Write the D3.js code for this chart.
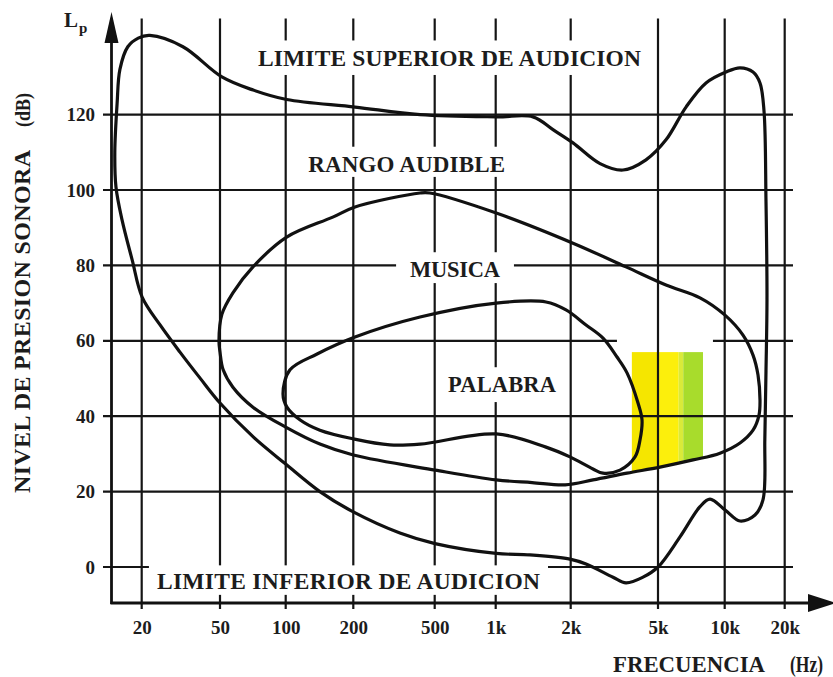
<!DOCTYPE html>
<html>
<head>
<meta charset="utf-8">
<script src="https://cdn.jsdelivr.net/npm/d3@7"></script>
<style>
  body { margin: 0; background: #fff; }
  svg { display: block; }
  text { font-family: "Liberation Serif", "Times New Roman", serif; font-weight: bold; fill: #1c1c1c; }
</style>
</head>
<body>
<svg></svg>
<script>
let width = 833
let height = 677

// frequency ticks (the drawing's log axis is hand-spaced, so the scale is piecewise)
let freqTicks = [20, 50, 100, 200, 500, 1000, 2000, 5000, 10000, 20000]
let freqLabels = ["20", "50", "100", "200", "500", "1k", "2k", "5k", "10k", "20k"]
let freqTickPos = [141.7, 220, 285.7, 353.3, 434.7, 495.7, 570.7, 658, 724.7, 784.7]
let dbTicks = [0, 20, 40, 60, 80, 100, 120]

// [Hz, dB] closed contours
let audible = [
  [14.6, 110], [15, 123], [15.5, 132], [17, 138], [19.2, 140.3], [22, 141], [32.4, 138], [51, 130],
  [71, 126.5], [101, 124], [204, 122], [424, 120], [1005, 119.4], [1411, 119.4], [1698, 116],
  [2049, 112.5], [2721, 107], [3464, 105.3], [4408, 108], [5433, 113.3], [6690, 122], [8235, 128.4],
  [10151, 131.3], [11934, 132.4], [13871, 131.3], [15034, 128.4], [15746, 121], [16113, 97],
  [16300, 71], [16113, 52], [15900, 34], [15560, 17.8], [14190, 13.8], [11934, 12.2], [10050, 15.1],
  [8585, 18], [7737, 16], [6285, 8], [5000, 0], [4272, -2.7], [3573, -4.2], [3118, -2.7],
  [2349, 0.8], [1987, 2.1], [1373, 3.2], [1005, 3.6], [502, 6.2], [338, 9], [200, 14.6], [142, 20],
  [100, 27.3], [71, 34.5], [50, 43.5], [39.6, 50.1], [31.3, 57], [24.8, 64.2], [20.1, 71.6],
  [17.9, 81.4], [15.9, 92], [14.8, 100.8]
]

let music = [
  [49.4, 60], [51, 67], [57.3, 72.7], [70.8, 79.6], [101, 87.5], [162, 92.8], [204, 95.5],
  [424, 99.2], [474, 99.2], [1005, 93.9], [2049, 85.9], [3573, 79.6], [5433, 74.8], [7737, 71.4],
  [10035, 66.8], [12355, 61.5], [13871, 56.2], [14694, 50.9], [15034, 44.3], [14865, 40.3],
  [13871, 36.3], [11934, 32.9], [9523, 30.2], [7193, 28.4], [5104, 26.5], [3612, 24.9],
  [2527, 23.1], [1900, 21.8], [1400, 22.4], [1005, 23.1], [502, 25.7], [200, 29.7], [142, 32.6],
  [100, 37.1], [70.8, 42.4], [57.3, 47.7], [51.7, 52.3], [50, 57]
]

let speech = [
  [97.2, 45.9], [104.5, 52.3], [138, 56.5], [204, 61], [424, 66.3], [1005, 70], [1592, 70.3],
  [1915, 68.2], [2349, 64.2], [2808, 60.7], [3252, 55.7], [3612, 51.5], [4054, 43.5], [4228, 39],
  [4139, 33.7], [3929, 29.2], [3355, 25.7], [2808, 24.9], [2527, 26], [1987, 29.2], [1592, 31.8],
  [1005, 35.3], [424, 32.6], [302, 32.4], [200, 34], [142, 36.3], [116, 39], [101.3, 42.4]
]

// highlighted bands [from Hz, to Hz], top in dB, clipped by the music contour
let bandFrom = [3800, 5000, 6200, 6500]
let bandTo = [5000, 6200, 6500, 7980]
let bandColors = ["#f5e600", "#fcef0c", "#d9ea3a", "#a8dc2c"]
let bandTop = 57

let regionLabels = [
  { text: "LIMITE SUPERIOR DE AUDICION", f0: 74.6, f1: 4184, db: 132.9, size: 23.5, padX: 8, padT: 10, padB: 9 },
  { text: "RANGO AUDIBLE", f0: 126, f1: 1090, db: 104.8, size: 23, padX: 8, padT: 10, padB: 5 },
  { text: "MUSICA", f0: 379, f1: 1040, db: 76.9, size: 22.5, padX: 14, padT: 10, padB: 6 },
  { text: "PALABRA", f0: 582, f1: 1746, db: 46.4, size: 22.5, padX: 8, padT: 10, padB: 10 },
  { text: "LIMITE INFERIOR DE AUDICION", f0: 23.9, f1: 1506, db: -5.8, size: 23.5, padX: 8, padT: 8, padB: 6 }
]

let axisX = 111.5
let axisY = 603
let gridLeft = 103
let gridRight = 793
let gridTop = 18.5
let gridBottom = 609

let svg = d3.select("svg").attr("width", width).attr("height", height)

let xScale = d3.scaleLog().domain(freqTicks).range(freqTickPos)
let yScale = d3.scaleLinear().domain([0, 120]).range([567, 114.6])

let contour = d3.line()
  .x(d => xScale(d[0]))
  .y(d => yScale(d[1]))
  .curve(d3.curveCatmullRomClosed.alpha(0.5))

// bands
svg.append("clipPath").attr("id", "musicClip")
  .append("path").attr("d", contour(music))

svg.append("g")
  .attr("clip-path", "url(#musicClip)")
  .selectAll("rect")
  .data(bandFrom)
  .enter()
  .append("rect")
  .attr("x", (d, i) => xScale(d))
  .attr("width", (d, i) => xScale(bandTo[i]) - xScale(d))
  .attr("y", yScale(bandTop))
  .attr("height", yScale(0) - yScale(bandTop))
  .attr("fill", (d, i) => bandColors[i])

// horizontal grid
svg.append("g")
  .selectAll("line")
  .data(dbTicks)
  .enter()
  .append("line")
  .attr("x1", gridLeft)
  .attr("x2", gridRight)
  .attr("y1", d => yScale(d))
  .attr("y2", d => yScale(d))
  .attr("stroke", "#151515")
  .attr("stroke-width", 2.2)

// erased piece of the 60 dB line above the bands
svg.append("rect")
  .attr("x", xScale(3250))
  .attr("width", xScale(8850) - xScale(3250))
  .attr("y", yScale(61.5))
  .attr("height", yScale(57.5) - yScale(61.5))
  .attr("fill", "#fff")

// vertical grid (with ticks below the axis)
svg.append("g")
  .selectAll("line")
  .data(freqTicks)
  .enter()
  .append("line")
  .attr("x1", d => xScale(d))
  .attr("x2", d => xScale(d))
  .attr("y1", gridTop)
  .attr("y2", gridBottom)
  .attr("stroke", "#151515")
  .attr("stroke-width", 2.2)

// region labels with white boxes that break the grid
let maskGroup = svg.append("g")
let curveGroup = svg.append("g")
let textGroup = svg.append("g")

regionLabels.forEach(l => {
  let x0 = xScale(l.f0)
  let x1 = xScale(l.f1)
  let base = yScale(l.db)
  let cap = l.size * 0.66
  maskGroup.append("rect")
    .attr("x", x0 - l.padX)
    .attr("width", x1 - x0 + 2 * l.padX)
    .attr("y", base - cap - l.padT)
    .attr("height", cap + l.padT + l.padB)
    .attr("fill", "#fff")
  textGroup.append("text")
    .attr("x", x0)
    .attr("y", base)
    .attr("textLength", x1 - x0)
    .attr("lengthAdjust", "spacing")
    .style("font-size", l.size + "px")
    .text(l.text)
})

// axes lines and arrows
svg.append("line")
  .attr("x1", axisX).attr("x2", axisX)
  .attr("y1", axisY + 1).attr("y2", 40)
  .attr("stroke", "#111").attr("stroke-width", 2.8)
svg.append("line")
  .attr("x1", axisX - 1).attr("x2", 812)
  .attr("y1", axisY).attr("y2", axisY)
  .attr("stroke", "#111").attr("stroke-width", 2.8)
svg.append("path")
  .attr("d", `M${axisX},12 L${axisX - 7},43 L${axisX + 7},43 Z`)
  .attr("fill", "#111")
svg.append("path")
  .attr("d", `M836,${axisY} L808,${axisY - 9} L808,${axisY + 9} Z`)
  .attr("fill", "#111")

// contours
curveGroup.selectAll("path")
  .data([audible, music, speech])
  .enter()
  .append("path")
  .attr("d", d => contour(d))
  .attr("fill", "none")
  .attr("stroke", "#111")
  .attr("stroke-width", 3.2)
  .attr("stroke-linejoin", "round")
curveGroup.raise()
textGroup.raise()

// tick labels
let xAxis = d3.axisBottom(xScale)
  .tickValues(freqTicks)
  .tickFormat((d, i) => freqLabels[i])
  .tickSize(0)
  .tickPadding(17.5)

let yAxis = d3.axisLeft(yScale)
  .tickValues(dbTicks)
  .tickSize(0)
  .tickPadding(16.5)

let gx = svg.append("g")
  .attr("transform", "translate(0," + axisY + ")")
  .call(xAxis)
let gy = svg.append("g")
  .attr("transform", "translate(" + axisX + ",0)")
  .call(yAxis)

gx.select(".domain").remove()
gy.select(".domain").remove()
svg.selectAll(".tick text")
  .attr("fill", "#1c1c1c")
  .style("font-family", '"Liberation Serif", "Times New Roman", serif')
  .style("font-weight", "bold")
  .style("font-size", "19px")

// axis titles
let lp = svg.append("text")
  .attr("x", 64)
  .attr("y", 27)
  .style("font-size", "21px")
lp.append("tspan").text("L")
lp.append("tspan").attr("dx", 1).attr("dy", 6).style("font-size", "15px").text("p")

svg.append("text")
  .attr("x", 613).attr("y", 672)
  .attr("textLength", 152).attr("lengthAdjust", "spacingAndGlyphs")
  .style("font-size", "22.5px")
  .text("FRECUENCIA")
svg.append("text")
  .attr("x", 790).attr("y", 672)
  .attr("textLength", 33).attr("lengthAdjust", "spacingAndGlyphs")
  .style("font-size", "22.5px")
  .text("(Hz)")

svg.append("text")
  .attr("transform", "translate(30,493) rotate(-90)")
  .attr("textLength", 343).attr("lengthAdjust", "spacing")
  .style("font-size", "24px")
  .text("NIVEL DE PRESION SONORA")
svg.append("text")
  .attr("transform", "translate(30,127) rotate(-90)")
  .attr("textLength", 34).attr("lengthAdjust", "spacingAndGlyphs")
  .style("font-size", "22px")
  .text("(dB)")
</script>
</body>
</html>
